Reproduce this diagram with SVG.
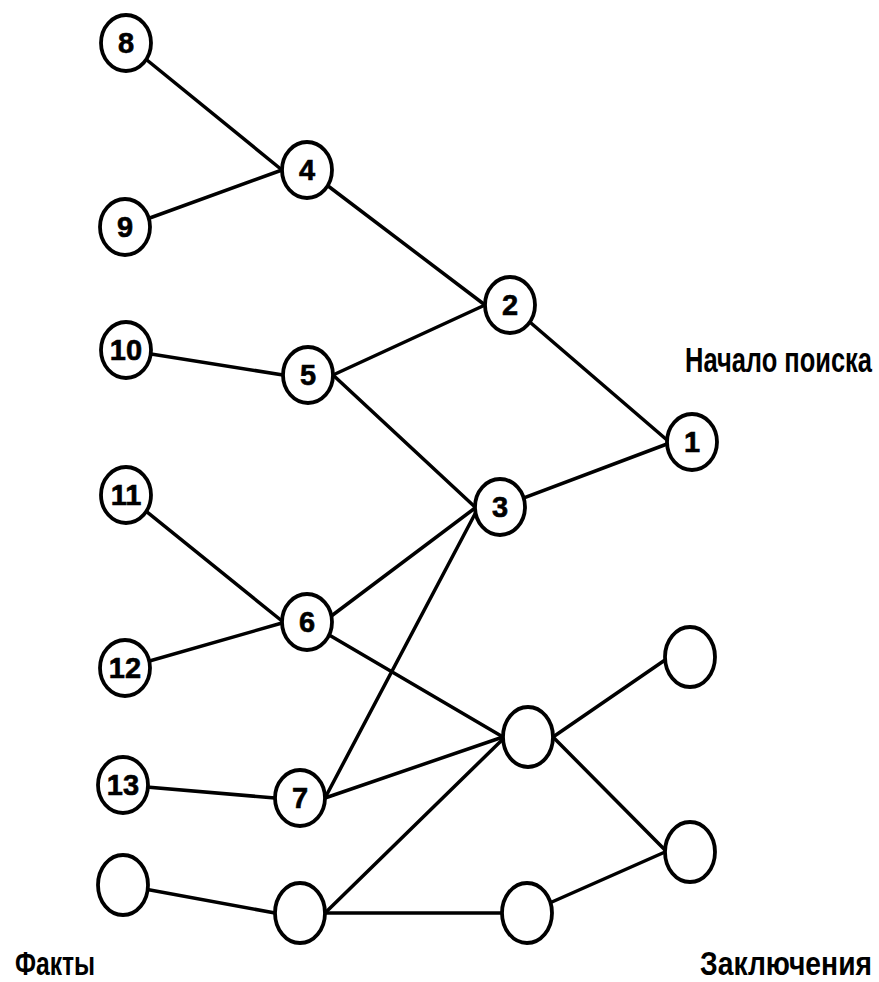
<svg xmlns="http://www.w3.org/2000/svg" width="879" height="982" viewBox="0 0 879 982">
<style>
.n{fill:#fff;stroke:#000;stroke-width:3.8}
.e{stroke:#000;stroke-width:3.5;fill:none;stroke-linecap:round}
.d{font-family:"Liberation Sans",Arial,sans-serif;font-weight:bold;font-size:29px;text-anchor:middle;fill:#000;stroke:#000;stroke-width:0.6}
.t{font-family:"Liberation Sans",Arial,sans-serif;font-weight:bold;fill:#000}
</style>
<rect width="879" height="982" fill="#fff"/>
<g id="connectors">
<line class="e" x1="126" y1="43" x2="282" y2="170"/>
<line class="e" x1="125" y1="227" x2="282" y2="170"/>
<line class="e" x1="307" y1="170" x2="485" y2="305"/>
<line class="e" x1="126" y1="350" x2="283" y2="375"/>
<line class="e" x1="333" y1="375" x2="485" y2="305"/>
<line class="e" x1="333" y1="375" x2="475" y2="507"/>
<line class="e" x1="510" y1="305" x2="667" y2="440"/>
<line class="e" x1="500" y1="507" x2="667" y2="444"/>
<line class="e" x1="126" y1="495" x2="282" y2="621"/>
<line class="e" x1="125" y1="668" x2="282" y2="623"/>
<line class="e" x1="330" y1="617" x2="475" y2="508"/>
<line class="e" x1="307" y1="622" x2="503" y2="737"/>
<line class="e" x1="325" y1="798" x2="476" y2="512"/>
<line class="e" x1="123" y1="785" x2="275" y2="798"/>
<line class="e" x1="325" y1="798" x2="503" y2="737"/>
<line class="e" x1="123" y1="885" x2="275" y2="913"/>
<line class="e" x1="325" y1="913" x2="503" y2="739"/>
<line class="e" x1="325" y1="913" x2="502" y2="913"/>
<line class="e" x1="553" y1="737" x2="665" y2="660"/>
<line class="e" x1="553" y1="737" x2="665" y2="850"/>
<line class="e" x1="527" y1="913" x2="665" y2="852"/>
</g>
<g id="n8"><ellipse class="n" cx="126" cy="43" rx="25" ry="28"/><text class="d" x="126" y="53">8</text></g>
<g id="n9"><ellipse class="n" cx="125" cy="227" rx="25" ry="28"/><text class="d" x="125" y="237">9</text></g>
<g id="n4"><ellipse class="n" cx="307" cy="170" rx="25" ry="28"/><text class="d" x="307" y="180">4</text></g>
<g id="n10"><ellipse class="n" cx="126" cy="350" rx="25" ry="28"/><text class="d" x="126" y="360">10</text></g>
<g id="n5"><ellipse class="n" cx="308" cy="375" rx="25" ry="28"/><text class="d" x="308" y="385">5</text></g>
<g id="n2"><ellipse class="n" cx="510" cy="305" rx="25" ry="28"/><text class="d" x="510" y="315">2</text></g>
<g id="n1"><ellipse class="n" cx="692" cy="442" rx="25" ry="28"/><text class="d" x="692" y="452">1</text></g>
<g id="n11"><ellipse class="n" cx="126" cy="495" rx="25" ry="28"/><text class="d" x="126" y="505">11</text></g>
<g id="n3"><ellipse class="n" cx="500" cy="507" rx="25" ry="28"/><text class="d" x="500" y="517">3</text></g>
<g id="n6"><ellipse class="n" cx="307" cy="622" rx="25" ry="28"/><text class="d" x="307" y="632">6</text></g>
<g id="n12"><ellipse class="n" cx="125" cy="668" rx="25" ry="28"/><text class="d" x="125" y="678">12</text></g>
<g id="n13"><ellipse class="n" cx="123" cy="785" rx="25" ry="28"/><text class="d" x="123" y="795">13</text></g>
<g id="n7"><ellipse class="n" cx="300" cy="798" rx="25" ry="28"/><text class="d" x="300" y="808">7</text></g>
<g id="nL"><ellipse class="n" cx="123" cy="885" rx="25" ry="30"/></g>
<g id="nB"><ellipse class="n" cx="300" cy="913" rx="25" ry="30"/></g>
<g id="nM"><ellipse class="n" cx="528" cy="737" rx="25" ry="30"/></g>
<g id="nTR"><ellipse class="n" cx="690" cy="657" rx="25" ry="30"/></g>
<g id="nLR"><ellipse class="n" cx="690" cy="852" rx="25" ry="30"/></g>
<g id="nBM"><ellipse class="n" cx="527" cy="913" rx="25" ry="30"/></g>
<g id="labels">
<text class="t" transform="translate(685,372) scale(1,1.35)" x="0" y="0" font-size="26" textLength="187" lengthAdjust="spacingAndGlyphs">Начало поиска</text>
<text class="t" transform="translate(15,975) scale(1,1.3)" x="0" y="0" font-size="25" textLength="80" lengthAdjust="spacingAndGlyphs">Факты</text>
<text class="t" transform="translate(700,975) scale(1,1.2)" x="0" y="0" font-size="28" textLength="172" lengthAdjust="spacingAndGlyphs">Заключения</text>
</g>
</svg>
